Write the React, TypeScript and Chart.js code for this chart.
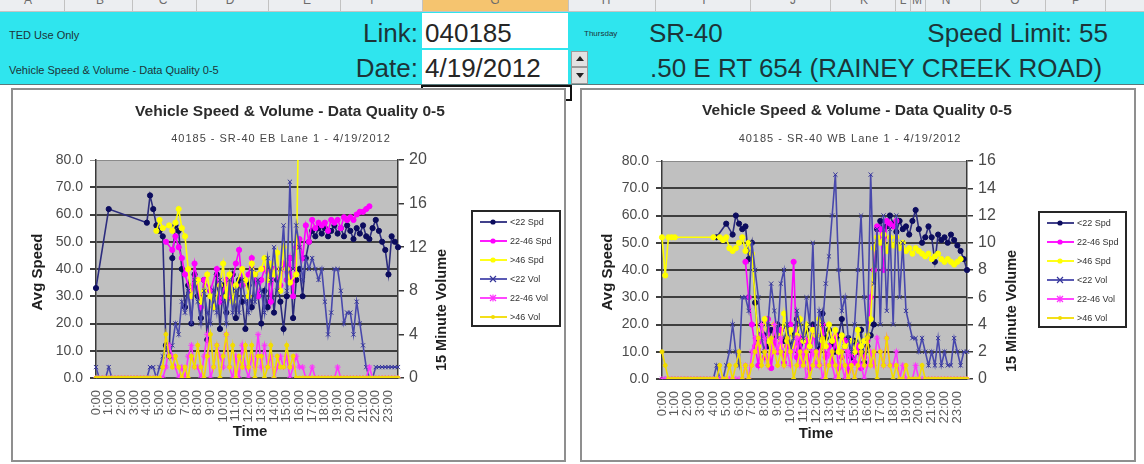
import { useEffect, useRef } from 'react';
import { Chart, registerables } from 'chart.js';

Chart.register(...registerables);

const _ = null;
const FONT = 'Arial, "Liberation Sans", sans-serif';

// ---- tick labels / categories ----
const HOUR_LABELS = ['0:00', '1:00', '2:00', '3:00', '4:00', '5:00', '6:00', '7:00', '8:00', '9:00', '10:00', '11:00',
  '12:00', '13:00', '14:00', '15:00', '16:00', '17:00', '18:00', '19:00', '20:00', '21:00', '22:00', '23:00'];
const QUARTER_MINUTES = ['00', '15', '30', '45'];
const CATEGORIES = HOUR_LABELS.flatMap((h) => QUARTER_MINUTES.map((m) => h.slice(0, h.indexOf(':') + 1) + m));
const SERIES_NAMES = ['<22 Spd', '22-46 Spd', '>46 Spd', '<22 Vol', '22-46 Vol', '>46 Vol'];
const SPEED_TICKS = { min: 0, max: 80, step: 10 };
const EB_VOLUME_TICKS = { min: 0, max: 20, step: 2 };
const WB_VOLUME_TICKS = { min: 0, max: 16, step: 2 };

// ---- EB (left chart) series, 15-minute intervals ----
const EB_SPD_LT22 = [
  33, _, _, _, 62, _, _, _, _, _, _, _, _, _, _, _,
  57, 67, 62, 56, 54, 52, 12, 8, 44, 56, 54, 40, 26, 34, 20, 38,
  30, 22, 36, 14, 32, 26, 38, 18, 34, 24, 30, 38, 22, 36, 28, 18,
  34, 26, 38, 30, 20, 32, 26, 40, 24, 36, 28, 18, 30, 44, 22, 36,
  40, 30, 44, 50, 54, 52, 55, 53, 55, 52, 54, 56, 53, 55, 52, 56,
  54, 51, 55, 53, 56, 52, 51, 55, 58, 54, 50, 47, 38, 52, 50, 48,
];
const EB_SPD_2246 = [
  _, _, _, _, _, _, _, _, _, _, _, _, _, _, _, _,
  _, _, _, _, _, _, 50, _, 47, 52, 48, 44, 38, _, 30, 42,
  _, 26, 36, _, 32, _, 40, 28, _, 36, 30, _, 42, 47, 34, _,
  38, 44, _, 30, 36, 40, 39, 28, 40, _, 34, 42, 36, 44, 30, 48,
  51, 44, 56, 50, 58, 55, 57, 56, 57, 54, 58, 57, 58, 55, 59, 58,
  59, 58, 60, 61, 61, 62, 63, _, _, _, _, _, _, _, _, _,
];
const EB_SPD_GT46 = [
  _, _, _, _, _, _, _, _, _, _, _, _, _, _, _, _,
  _, _, _, 54, 58, 55, _, 56, 54, 57, 62, 55, 52, 40, 30, _,
  36, 28, 32, 38, 30, 26, _, 34, 42, 30, 38, 28, 34, _, 40, 36,
  30, 42, 38, _, 40, 44, 36, 42, 38, 46, 32, 48, 40, 35, _, 38,
  120, _, _, _, _, _, _, _, _, _, _, _, _, _, _, _,
  _, _, _, _, _, _, _, _, _, _, _, _, _, _, _, _,
];
const EB_VOL_LT22 = [
  1, 0, 0, 0, 1, 0, 0, 0, 0, 0, 0, 0, 0, 0, 0, 0,
  0, 1, 1, 0, 1, 2, 3, 2, 3, 5, 4, 7, 6, 8, 5, 9,
  7, 5, 8, 6, 5, 8, 6, 9, 7, 5, 9, 6, 8, 6, 9, 7,
  6, 10, 7, 9, 8, 6, 11, 9, 12, 8, 10, 14, 8, 18, 10, 14,
  12, 9, 11, 10, 11, 10, 9, 10, 7, 4, 6, 10, 10, 8, 5, 6,
  6, 4, 7, 5, 3, 1, 0, 0, 1, 1, 1, 1, 1, 1, 1, 1,
];
const EB_VOL_2246 = [
  0, 0, 0, 0, 0, 0, 0, 0, 0, 0, 0, 0, 0, 0, 0, 0,
  0, 0, 0, 0, 0, 0, 1, 3, 2, 1, 0, 1, 0, 2, 3, 1,
  1, 0, 2, 4, 0, 1, 3, 2, 1, 4, 1, 0, 2, 0, 3, 1,
  0, 2, 1, 4, 1, 3, 1, 2, 0, 1, 2, 1, 2, 0, 1, 2,
  1, 1, 0, 0, 1, 0, 0, 0, 0, 0, 0, 0, 1, 0, 0, 0,
  0, 0, 0, 0, 0, 0, 1, 0, 0, 0, 0, 0, 0, 0, 0, 0,
];
const EB_VOL_GT46 = [
  0, 0, 0, 0, 0, 0, 0, 0, 0, 0, 0, 0, 0, 0, 0, 0,
  0, 0, 0, 0, 0, 1, 4, 2, 1, 2, 1, 0, 1, 0, 2, 1,
  3, 1, 0, 2, 4, 1, 3, 0, 2, 4, 1, 3, 0, 2, 1, 3,
  1, 3, 0, 2, 2, 0, 1, 3, 0, 2, 1, 1, 3, 1, 2, 0,
  0, 0, 0, 0, 0, 0, 0, 0, 0, 0, 0, 0, 0, 0, 0, 0,
  0, 0, 0, 0, 0, 0, 0, 0, 0, 0, 0, 0, 0, 0, 0, 0,
];

// ---- WB (right chart) series, 15-minute intervals ----
const WB_SPD_LT22 = [
  _, _, _, _, _, _, _, _, _, _, _, _, _, _, _, _,
  _, 52, _, _, 57, _, 53, 60, 57, 55, 56, 44, 50, 28, 14, 20,
  16, 12, 18, 15, 20, 18, 14, 19, 12, 16, 22, 10, 14, 18, 12, 20,
  16, 11, 24, 15, 18, 13, 10, 16, 22, 12, 15, 8, 14, 10, 18, 6,
  12, 16, 20, 55, 58, 52, 56, 60, 57, 54, 58, 55, 56, 53, 58, 62,
  55, 50, 52, 56, 52, 43, 53, 51, 52, 50, 53, 51, 49, 47, 44, 40,
];
const WB_SPD_2246 = [
  _, _, _, _, _, _, _, _, _, _, _, _, _, _, _, _,
  _, _, _, _, _, _, _, _, _, _, 43, 30, 20, 12, 5, 16,
  8, 22, 4, 14, 10, 18, 6, 12, 20, 43, 8, 15, 6, 14, 4, 18,
  10, 5, 20, 8, 12, 6, 16, 4, 8, 14, 3, 10, 6, 12, 4, 8,
  14, 30, 40, 56, 55, 40, 58, 57, 56, 58, _, _, _, _, _, _,
  _, _, _, _, _, _, _, _, _, _, _, _, _, _, _, _,
];
const WB_SPD_GT46 = [
  52, 38, 52, 52, 52, _, _, _, _, _, _, _, _, _, _, _,
  52, _, 52, 51, 52, 48, 47, 48, 50, 52, 47, 50, 46, _, 12, 18,
  22, 14, 10, 20, 16, 12, 24, 14, 18, 12, 16, 22, 14, 20, 12, 18,
  16, 22, 14, 12, 20, 14, 18, 10, 16, 12, _, 14, 10, 18, 12, 14,
  16, 22, 48, 52, 50, 53, 47, 52, 49, 52, 48, 50, 47, 48, 46, 48,
  47, 46, 45, 46, 44, 45, 46, 44, 43, 44, 43, 42, 43, 44, _, _,
];
const WB_VOL_LT22 = [
  0, 0, 0, 0, 0, 0, 0, 0, 0, 0, 0, 0, 0, 0, 0, 0,
  0, 1, 0, 0, 1, 2, 4, 2, 1, 6, 6, 5, 10, 8, 6, 3,
  2, 4, 7, 5, 3, 7, 8, 4, 2, 3, 5, 4, 3, 6, 4, 10,
  2, 5, 4, 7, 9, 12, 15, 8, 5, 6, 3, 2, 4, 8, 12, 6,
  3, 15, 7, 11, 4, 12, 5, 11, 4, 12, 6, 10, 5, 4, 3, 3,
  2, 3, 2, 1, 2, 1, 3, 1, 2, 1, 1, 3, 2, 1, 2, 2,
];
const WB_VOL_2246 = [
  0, 0, 0, 0, 0, 0, 0, 0, 0, 0, 0, 0, 0, 0, 0, 0,
  0, 0, 0, 0, 0, 0, 0, 0, 0, 0, 1, 0, 2, 3, 2, 4,
  3, 1, 2, 4, 2, 3, 1, 2, 1, 2, 3, 1, 2, 0, 1, 2,
  1, 2, 0, 1, 2, 1, 0, 1, 1, 0, 2, 1, 0, 1, 1, 0,
  1, 2, 1, 3, 2, 1, 3, 1, 1, 2, 0, 1, 0, 0, 0, 1,
  0, 0, 0, 0, 0, 0, 0, 0, 0, 0, 0, 0, 0, 0, 0, 0,
];
const WB_VOL_GT46 = [
  2, 1, 0, 0, 0, 0, 0, 0, 0, 0, 0, 0, 0, 0, 0, 0,
  0, 0, 1, 0, 0, 1, 0, 1, 2, 0, 1, 0, 1, 2, 3, 1,
  2, 1, 3, 2, 1, 2, 1, 3, 2, 0, 1, 2, 1, 2, 0, 1,
  2, 1, 3, 0, 1, 2, 1, 0, 2, 1, 0, 1, 0, 1, 2, 1,
  3, 1, 2, 0, 2, 1, 3, 1, 0, 1, 0, 0, 1, 0, 0, 0,
  0, 1, 0, 0, 0, 0, 0, 0, 0, 0, 0, 0, 0, 0, 0, 0,
];

// ---- series styling ----
type Style = { line: string; point: string; shape: string; r: number; axis: string };
const STYLES: Style[] = [
  { line: '#2c2c7e', point: '#0c0c5e', shape: 'circle', r: 2.6, axis: 'y' },
  { line: '#ff00ff', point: '#ff00ff', shape: 'circle', r: 2.6, axis: 'y' },
  { line: '#ffff00', point: '#ffff00', shape: 'circle', r: 2.6, axis: 'y' },
  { line: '#4848ac', point: '#36369a', shape: 'crossRot', r: 3, axis: 'y1' },
  { line: '#ff33ff', point: '#ff33ff', shape: 'star', r: 3, axis: 'y1' },
  { line: '#f2dc00', point: '#f2dc00', shape: 'circle', r: 2, axis: 'y1' },
];

type Pt = { x: number; y: number };
type ChartCfg = {
  box: { x: number; y: number; w: number; h: number };
  area: { l: number; r: number; t: number; b: number };
  subtitle: string;
  vol: { min: number; max: number; step: number };
  series: (number | null)[][];
  title: Pt; sub: Pt; avg: Pt; volTitle: Pt; time: Pt;
  legend: { x: number; y: number; w: number; h: number };
};

const EB_CFG: ChartCfg = {
  box: { x: 11, y: 88, w: 555, h: 374 },
  area: { l: 83, r: 385, t: 70, b: 288 },
  subtitle: '40185 - SR-40 EB Lane 1 - 4/19/2012',
  vol: EB_VOLUME_TICKS,
  series: [EB_SPD_LT22, EB_SPD_2246, EB_SPD_GT46, EB_VOL_LT22, EB_VOL_2246, EB_VOL_GT46],
  title: { x: 277, y: 22 }, sub: { x: 268, y: 49 }, avg: { x: 25, y: 182 }, volTitle: { x: 429, y: 220 }, time: { x: 237, y: 342 },
  legend: { x: 459, y: 121, w: 88, h: 115 },
};
const WB_CFG: ChartCfg = {
  box: { x: 580, y: 88, w: 556, h: 374 },
  area: { l: 80, r: 385, t: 71, b: 289 },
  subtitle: '40185 - SR-40 WB Lane 1 - 4/19/2012',
  vol: WB_VOLUME_TICKS,
  series: [WB_SPD_LT22, WB_SPD_2246, WB_SPD_GT46, WB_VOL_LT22, WB_VOL_2246, WB_VOL_GT46],
  title: { x: 275, y: 21 }, sub: { x: 268, y: 49 }, avg: { x: 26, y: 182 }, volTitle: { x: 430, y: 221 }, time: { x: 234, y: 344 },
  legend: { x: 457, y: 122, w: 87, h: 115 },
};

function drawMarker(ctx: CanvasRenderingContext2D, shape: string, x: number, y: number, r: number, color: string) {
  ctx.save();
  ctx.fillStyle = color;
  ctx.strokeStyle = color;
  ctx.lineWidth = 1.2;
  if (shape === 'circle') {
    ctx.beginPath(); ctx.arc(x, y, r, 0, Math.PI * 2); ctx.fill();
  } else {
    ctx.beginPath();
    ctx.moveTo(x - r, y - r); ctx.lineTo(x + r, y + r);
    ctx.moveTo(x - r, y + r); ctx.lineTo(x + r, y - r);
    if (shape === 'star') { ctx.moveTo(x, y - r * 1.2); ctx.lineTo(x, y + r * 1.2); }
    ctx.stroke();
  }
  ctx.restore();
}

const decorPlugin = {
  id: 'decor',
  beforeDraw(chart: any) {
    const { ctx, chartArea: a } = chart;
    ctx.save();
    ctx.fillStyle = '#c0c0c0';
    ctx.fillRect(a.left, a.top, a.right - a.left, a.bottom - a.top);
    ctx.restore();
  },
  afterDraw(chart: any, _args: any, opts: any) {
    const cfg: ChartCfg = opts.cfg;
    const ctx: CanvasRenderingContext2D = chart.ctx;
    ctx.save();
    ctx.textAlign = 'center';
    ctx.textBaseline = 'middle';
    ctx.fillStyle = '#2b2b2b';
    ctx.font = `bold 15.5px ${FONT}`;
    ctx.fillText('Vehicle Speed & Volume - Data Quality 0-5', cfg.title.x, cfg.title.y);
    ctx.font = `11px ${FONT}`;
    ctx.fillStyle = '#444';
    (ctx as any).letterSpacing = '1px';
    ctx.fillText(cfg.subtitle, cfg.sub.x, cfg.sub.y);
    (ctx as any).letterSpacing = '0px';
    ctx.fillStyle = '#1e1e1e';
    ctx.font = `bold 15px ${FONT}`;
    ctx.fillText('Time', cfg.time.x, cfg.time.y);
    const vertical = (text: string, p: Pt) => {
      ctx.save();
      ctx.translate(p.x, p.y);
      ctx.rotate(-Math.PI / 2);
      ctx.fillText(text, 0, 0);
      ctx.restore();
    };
    vertical('Avg Speed', cfg.avg);
    ctx.font = `bold 14.5px ${FONT}`;
    vertical('15 Minute Volume', cfg.volTitle);

    // legend
    const L = cfg.legend;
    ctx.fillStyle = '#ffffff';
    ctx.fillRect(L.x, L.y, L.w, L.h);
    ctx.strokeStyle = '#262626';
    ctx.lineWidth = 2;
    ctx.strokeRect(L.x, L.y, L.w, L.h);
    ctx.textAlign = 'left';
    ctx.font = `9px ${FONT}`;
    SERIES_NAMES.forEach((name, i) => {
      const st = STYLES[i];
      const y = L.y + 11 + i * 19;
      ctx.strokeStyle = st.line;
      ctx.lineWidth = 1.8;
      ctx.beginPath();
      ctx.moveTo(L.x + 8, y);
      ctx.lineTo(L.x + 35, y);
      ctx.stroke();
      drawMarker(ctx, st.shape, L.x + 21, y, st.r, st.point);
      ctx.fillStyle = '#333';
      ctx.fillText(name, L.x + 38, y + 0.5);
    });
    ctx.restore();
  },
};

function buildConfig(cfg: ChartCfg): any {
  const W = cfg.box.w - 4;
  const H = cfg.box.h - 4;
  const { area } = cfg;
  return {
    type: 'line',
    data: {
      labels: CATEGORIES,
      datasets: cfg.series.map((data, i) => ({
        label: SERIES_NAMES[i],
        data,
        yAxisID: STYLES[i].axis,
        borderColor: STYLES[i].line,
        backgroundColor: STYLES[i].point,
        pointBackgroundColor: STYLES[i].point,
        pointBorderColor: STYLES[i].point,
        pointStyle: STYLES[i].shape,
        pointRadius: STYLES[i].r,
        pointBorderWidth: 1,
        borderWidth: 1.6,
        spanGaps: true,
        tension: 0,
        order: 5 - i,
      })),
    },
    options: {
      responsive: false,
      animation: false,
      devicePixelRatio: 1,
      layout: { padding: { left: 0, top: area.t, right: W - area.r - 60, bottom: 0 } },
      plugins: {
        legend: { display: false },
        tooltip: { enabled: false },
        decor: { cfg },
      },
      scales: {
        x: {
          type: 'category',
          grid: { display: false },
          border: { display: true, color: '#4a4a4a', width: 1.5 },
          ticks: {
            autoSkip: false,
            minRotation: 90,
            maxRotation: 90,
            color: '#5c5c5c',
            font: { size: 13, family: FONT },
            padding: 4,
            callback: (_v: any, i: number) => (i % 4 === 0 ? CATEGORIES[i] : null),
          },
          afterFit: (s: any) => { s.height = H - area.b; },
        },
        y: {
          position: 'left',
          min: SPEED_TICKS.min,
          max: SPEED_TICKS.max,
          ticks: {
            stepSize: SPEED_TICKS.step,
            callback: (v: any) => Number(v).toFixed(1),
            color: '#4a4a4a',
            font: { size: 14, family: FONT },
            padding: 7,
          },
          grid: {
            color: (c: any) => (c.tick && c.tick.value === SPEED_TICKS.max ? '#8a8a8a' : '#3e3e3e'),
            lineWidth: (c: any) => (c.tick && c.tick.value === SPEED_TICKS.max ? 1 : 2),
            tickLength: 6,
          },
          border: { display: true, color: '#3a3a3a', width: 1.5 },
          afterFit: (s: any) => { s.width = area.l; },
        },
        y1: {
          position: 'right',
          min: cfg.vol.min,
          max: cfg.vol.max,
          ticks: { stepSize: cfg.vol.step, color: '#4a4a4a', font: { size: 16, family: FONT }, padding: 5 },
          grid: { drawOnChartArea: false, color: '#3a3a3a', tickLength: 6, lineWidth: 1.5 },
          border: { display: true, color: '#3a3a3a', width: 1.5 },
          afterFit: (s: any) => { s.width = 60; },
        },
      },
    },
    plugins: [decorPlugin],
  };
}

function SpeedVolumeChart({ cfg }: { cfg: ChartCfg }) {
  const ref = useRef<HTMLCanvasElement>(null);
  useEffect(() => {
    const chart = new Chart(ref.current as HTMLCanvasElement, buildConfig(cfg));
    return () => chart.destroy();
  }, [cfg]);
  const { box } = cfg;
  return (
    <>
      <div style={{ position: 'absolute', left: box.x, top: box.y, width: box.w, height: box.h, border: '2px solid #8f8f8f', boxSizing: 'border-box', background: '#fff' }} />
      <canvas ref={ref} width={box.w - 4} height={box.h - 4}
        style={{ position: 'absolute', left: box.x + 2, top: box.y + 2, width: box.w - 4, height: box.h - 4 }} />
    </>
  );
}

// ---- spreadsheet header (layout only) ----
const COLUMN_HEADERS = [
  { label: 'A', x: 28 }, { label: 'B', x: 100 }, { label: 'C', x: 163 }, { label: 'D', x: 230 }, { label: 'E', x: 307 },
  { label: 'F', x: 374 }, { label: 'G', x: 495 }, { label: 'H', x: 606 }, { label: 'I', x: 704 }, { label: 'J', x: 793 },
  { label: 'K', x: 864 }, { label: 'L', x: 903 }, { label: 'M', x: 917 }, { label: 'N', x: 946 }, { label: 'O', x: 1015 },
  { label: 'P', x: 1076 },
];
const COLUMN_EDGES = [64, 132, 196, 268, 340, 422, 568, 655, 750, 830, 895, 910, 925, 980, 1045, 1105];
const CYAN = '#2fe5ee';
const INK = '#1d3438';

function Txt({ text, x, y, size, right, color, bold }: { text: string; x: number; y: number; size: number; right?: boolean; color?: string; bold?: boolean }) {
  const style: any = {
    position: 'absolute', top: y - size / 2, fontSize: size, lineHeight: `${size}px`, whiteSpace: 'nowrap',
    color: color || INK, fontFamily: FONT, fontWeight: bold ? 'bold' : 'normal',
  };
  if (right) style.right = 1144 - x; else style.left = x;
  return <div style={style}>{text}</div>;
}

export default function App() {
  return (
    <div style={{ position: 'absolute', left: 0, top: 0, width: 1144, height: 464, background: '#fff', overflow: 'hidden', fontFamily: FONT }}>
      <div style={{ position: 'absolute', left: 0, top: 0, width: 1144, height: 11, background: '#eceef1', borderBottom: '1px solid #c4c4c4' }} />
      <div style={{ position: 'absolute', left: 422, top: 0, width: 146, height: 11, background: '#f5c46f' }} />
      {COLUMN_EDGES.map((x) => (
        <div key={x} style={{ position: 'absolute', left: x, top: 0, width: 1, height: 11, background: '#c2c2c2' }} />
      ))}
      {COLUMN_HEADERS.map((c) => (
        <div key={c.label} style={{ position: 'absolute', left: c.x - 5, top: -6, width: 10, textAlign: 'center', fontSize: 12, lineHeight: '12px', color: '#6c6c6c' }}>{c.label}</div>
      ))}
      <div style={{ position: 'absolute', left: 0, top: 12, width: 1144, height: 72, background: CYAN }} />
      <div style={{ position: 'absolute', left: 0, top: 84, width: 1144, height: 1, background: '#5a7a7c' }} />
      <div style={{ position: 'absolute', left: 422, top: 13, width: 146, height: 35, background: '#fff' }} />
      <div style={{ position: 'absolute', left: 422, top: 50, width: 146, height: 34, background: '#fff' }} />
      <div style={{ position: 'absolute', left: 571, top: 51, width: 17, height: 16, background: '#e2e2e2', border: '1px solid #9a9a9a', boxSizing: 'border-box' }} />
      <div style={{ position: 'absolute', left: 571, top: 67, width: 17, height: 17, background: '#e2e2e2', border: '1px solid #9a9a9a', boxSizing: 'border-box' }} />
      <div style={{ position: 'absolute', left: 576, top: 56, width: 0, height: 0, borderLeft: '4px solid transparent', borderRight: '4px solid transparent', borderBottom: '5px solid #222' }} />
      <div style={{ position: 'absolute', left: 576, top: 73, width: 0, height: 0, borderLeft: '4px solid transparent', borderRight: '4px solid transparent', borderTop: '5px solid #222' }} />

      <Txt text="TED Use Only" x={9} y={35} size={11} />
      <Txt text="Vehicle Speed & Volume - Data Quality 0-5" x={9} y={70} size={11} />
      <Txt text="Link:" x={418} y={33} size={26} right />
      <Txt text="Date:" x={418} y={68} size={26} right />
      <Txt text="040185" x={425} y={33} size={26} color="#262626" />
      <Txt text="4/19/2012" x={425} y={68} size={26} color="#262626" />
      <Txt text="Thursday" x={584} y={34} size={8} />
      <Txt text="SR-40" x={649} y={33} size={26} />
      <Txt text="Speed Limit: 55" x={1108} y={33} size={26} right />
      <Txt text=".50 E RT 654 (RAINEY CREEK ROAD)" x={650} y={68} size={26} />

      <div style={{ position: 'absolute', left: 421, top: 85, width: 151, height: 16, border: '2px solid #111', boxSizing: 'border-box' }} />

      <SpeedVolumeChart cfg={EB_CFG} />
      <SpeedVolumeChart cfg={WB_CFG} />
    </div>
  );
}
